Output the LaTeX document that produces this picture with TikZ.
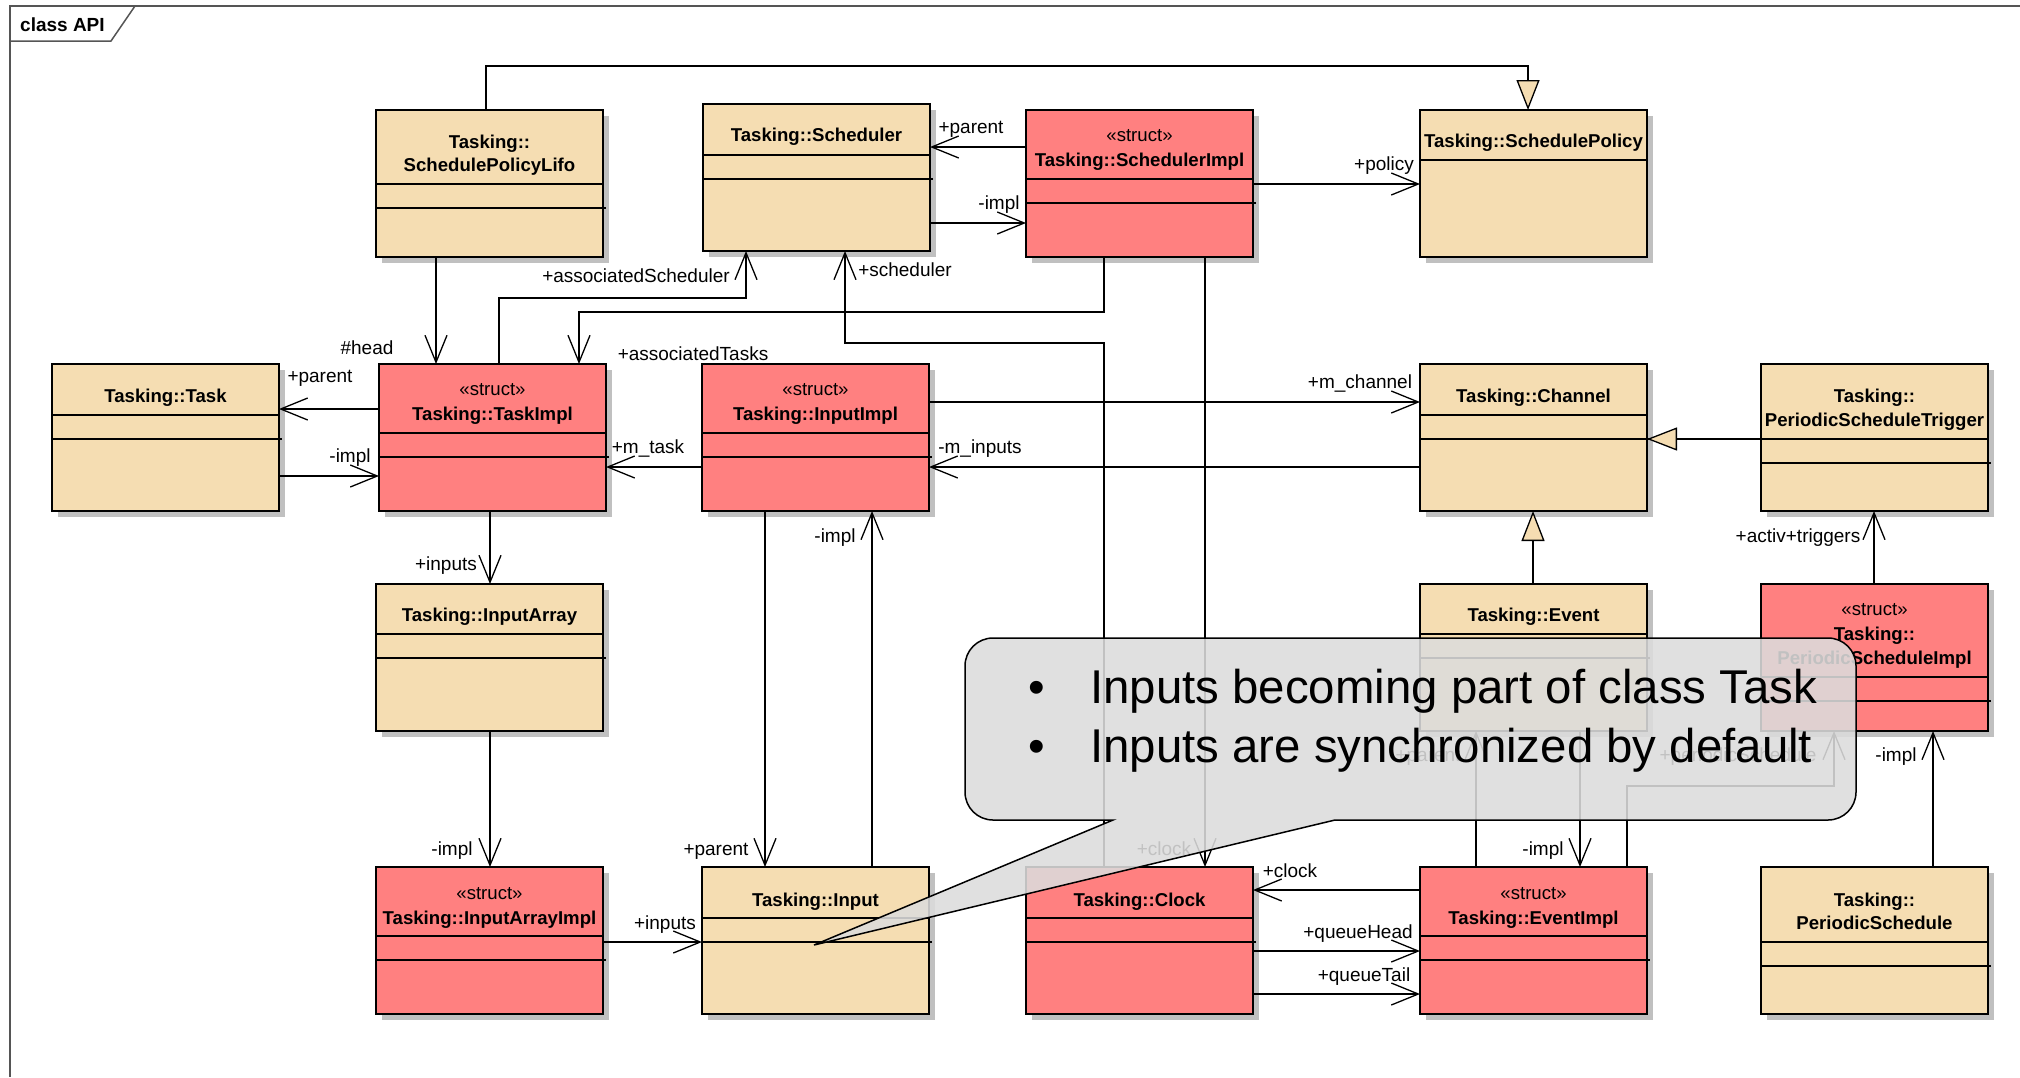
\documentclass[tikz,border=0pt]{standalone}
\usepackage{fontspec}
\setmainfont{Liberation Sans}
\usetikzlibrary{arrows.meta,shadows,calc}
\definecolor{beige}{HTML}{F5DDB2}
\definecolor{umlpink}{HTML}{FF8080}
\definecolor{shadowgray}{HTML}{C0C0C0}
\definecolor{callgray}{HTML}{DCDCDC}
\definecolor{framegray}{HTML}{555555}
\tikzset{
  cls/.style={draw=black, line width=1.5pt, minimum width=227pt, minimum height=147pt,
    inner sep=0pt, outer sep=0pt, anchor=north west,
    drop shadow={shadow xshift=6pt, shadow yshift=-6pt, fill=shadowgray, opacity=1}},
  sepl/.style={line width=1.5pt},
  nm/.style={font=\fontsize{18.6}{22}\selectfont\bfseries, anchor=base, inner sep=0pt},
  st/.style={font=\fontsize{18.6}{22}\selectfont, anchor=base, inner sep=0pt},
  lbl/.style={font=\fontsize{19}{22}\selectfont, anchor=base, inner sep=0pt},
  assoc/.style={line width=1.3pt, -{Straight Barb[length=27pt,width=22pt,line width=1.3pt]}},
  gen/.style={line width=1.3pt, -{Triangle[length=30pt,width=23pt,fill=beige,line width=1.3pt]}},
  callout/.style={fill=callgray, fill opacity=0.88, draw=black, line width=1.5pt},
  big/.style={font=\fontsize{47.4}{56}\selectfont, inner sep=0pt},
}
\newcommand\ubox[6]{%
  \node[cls, fill=#2] (#1) at (#3,#4) {};
  \draw[sepl] ([yshift=-#5pt]#1.north west) -- ([yshift=-#5pt]#1.north east);
  \draw[sepl] ([yshift=-#6pt]#1.north west) -- ([yshift=-#6pt,xshift=3pt]#1.north east);
}
\begin{document}
\begin{tikzpicture}[x=1pt,y=-1pt]
\useasboundingbox (0,0) rectangle (2020,1077);
\fill[white] (0,0) rectangle (2020,1077);
% frame
\draw[framegray, line width=1.5pt] (2020,6) -- (10,6) -- (10,1077);
\draw[framegray, line width=1.5pt] (10,41) -- (111,41) -- (135,6);
\node[font=\fontsize{19}{22}\selectfont\bfseries, anchor=base west, inner sep=0pt] (title) at (20,31) {class API};

% boxes
\ubox{lifo}{beige}{376}{110}{74}{98}
\ubox{sched}{beige}{703}{104}{51}{75}
\ubox{schimpl}{umlpink}{1026}{110}{69}{93}
\node[cls, fill=beige] (spol) at (1420,110) {};
\draw[sepl] ([yshift=-50pt]spol.north west) -- ([yshift=-50pt]spol.north east);
\ubox{task}{beige}{52}{364}{51}{75}
\ubox{timpl}{umlpink}{379}{364}{69}{93}
\ubox{iimpl}{umlpink}{702}{364}{69}{93}
\ubox{chan}{beige}{1420}{364}{51}{75}
\ubox{pst}{beige}{1761}{364}{75}{99}
\ubox{iarr}{beige}{376}{584}{50}{74}
\ubox{event}{beige}{1420}{584}{50}{74}
\ubox{psi}{umlpink}{1761}{584}{93}{117}
\ubox{iaimpl}{umlpink}{376}{867}{69}{93}
\ubox{input}{beige}{702}{867}{51}{75}
\ubox{clock}{umlpink}{1026}{867}{51}{75}
\ubox{eimpl}{umlpink}{1420}{867}{69}{93}
\ubox{psched}{beige}{1761}{867}{75}{99}

% class names
\node[nm] (lifo-a) at ([yshift=-38pt]lifo.north) {Tasking::};
\node[nm] (lifo-b) at ([yshift=-61pt]lifo.north) {SchedulePolicyLifo};
\node[nm] (sched-a) at ([yshift=-37pt]sched.north) {Tasking::Scheduler};
\node[st] (schimpl-s) at ([yshift=-31pt]schimpl.north) {«struct»};
\node[nm] (schimpl-a) at ([yshift=-56pt]schimpl.north) {Tasking::SchedulerImpl};
\node[nm] (spol-a) at ([yshift=-37pt]spol.north) {Tasking::SchedulePolicy};
\node[nm] (task-a) at ([yshift=-38pt]task.north) {Tasking::Task};
\node[st] (timpl-s) at ([yshift=-31pt]timpl.north) {«struct»};
\node[nm] (timpl-a) at ([yshift=-56pt]timpl.north) {Tasking::TaskImpl};
\node[st] (iimpl-s) at ([yshift=-31pt]iimpl.north) {«struct»};
\node[nm] (iimpl-a) at ([yshift=-56pt]iimpl.north) {Tasking::InputImpl};
\node[nm] (chan-a) at ([yshift=-38pt]chan.north) {Tasking::Channel};
\node[nm] (pst-a) at ([yshift=-38pt]pst.north) {Tasking::};
\node[nm] (pst-b) at ([yshift=-62pt]pst.north) {PeriodicScheduleTrigger};
\node[nm] (iarr-a) at ([yshift=-37pt]iarr.north) {Tasking::InputArray};
\node[nm] (event-a) at ([yshift=-37pt]event.north) {Tasking::Event};
\node[st] (psi-s) at ([yshift=-31pt]psi.north) {«struct»};
\node[nm] (psi-a) at ([yshift=-56pt]psi.north) {Tasking::};
\node[nm] (psi-b) at ([yshift=-80pt]psi.north) {PeriodicScheduleImpl};
\node[st] (iaimpl-s) at ([yshift=-32pt]iaimpl.north) {«struct»};
\node[nm] (iaimpl-a) at ([yshift=-57pt]iaimpl.north) {Tasking::InputArrayImpl};
\node[nm] (input-a) at ([yshift=-39pt]input.north) {Tasking::Input};
\node[nm] (clock-a) at ([yshift=-39pt]clock.north) {Tasking::Clock};
\node[st] (eimpl-s) at ([yshift=-32pt]eimpl.north) {«struct»};
\node[nm] (eimpl-a) at ([yshift=-57pt]eimpl.north) {Tasking::EventImpl};
\node[nm] (psched-a) at ([yshift=-39pt]psched.north) {Tasking::};
\node[nm] (psched-b) at ([yshift=-62pt]psched.north) {PeriodicSchedule};

% connectors
\draw[gen] (lifo.north -| 486,0) -- (486,66) -- (1528,66) -- (spol.north -| 1528,0);
\draw[assoc] (lifo.south -| 436,0) -- (timpl.north -| 436,0);
\draw[assoc] (schimpl.west |- 0,147) -- (sched.east |- 0,147);
\draw[assoc] (sched.east |- 0,223) -- (schimpl.west |- 0,223);
\draw[assoc] (schimpl.east |- 0,184) -- (spol.west |- 0,184);
\draw[assoc] (timpl.north -| 499,0) -- (499,298) -- (746,298) -- (sched.south -| 746,0);
\draw[assoc] (schimpl.south -| 1104,0) -- (1104,312) -- (579,312) -- (timpl.north -| 579,0);
\draw[assoc] (clock.north -| 1104,0) -- (1104,343) -- (845,343) -- (sched.south -| 845,0);
\draw[assoc] (schimpl.south -| 1205,0) -- (clock.north -| 1205,0);
\draw[assoc] (task.east |- 0,476) -- (timpl.west |- 0,476);
\draw[assoc] (timpl.west |- 0,409) -- (task.east |- 0,409);
\draw[assoc] (iimpl.west |- 0,467) -- (timpl.east |- 0,467);
\draw[assoc] (timpl.south -| 490,0) -- (iarr.north -| 490,0);
\draw[assoc] (iimpl.east |- 0,402) -- (chan.west |- 0,402);
\draw[assoc] (chan.west |- 0,467) -- (iimpl.east |- 0,467);
\draw[gen] (pst.west |- 0,439) -- (chan.east |- 0,439);
\draw[gen] (event.north -| 1533,0) -- (chan.south -| 1533,0);
\draw[assoc] (psi.north -| 1874,0) -- (pst.south -| 1874,0);
\draw[assoc] (iimpl.south -| 765,0) -- (input.north -| 765,0);
\draw[assoc] (input.north -| 872,0) -- (iimpl.south -| 872,0);
\draw[assoc] (iarr.south -| 490,0) -- (iaimpl.north -| 490,0);
\draw[assoc] (iaimpl.east |- 0,942) -- (input.west |- 0,942);
\draw[assoc] (eimpl.west |- 0,890) -- (clock.east |- 0,890);
\draw[assoc] (clock.east |- 0,951) -- (eimpl.west |- 0,951);
\draw[assoc] (clock.east |- 0,994) -- (eimpl.west |- 0,994);
\draw[assoc] (eimpl.north -| 1476,0) -- (event.south -| 1476,0);
\draw[assoc] (event.south -| 1580,0) -- (eimpl.north -| 1580,0);
\draw[assoc] (eimpl.north -| 1627,0) -- (1627,786) -- (1834,786) -- (psi.south -| 1834,0);
\draw[assoc] (psched.north -| 1933,0) -- (psi.south -| 1933,0);

% connector labels
\node[lbl] (l1) at (367,354) {\#head};
\node[lbl] (l2) at (971,133) {+parent};
\node[lbl] (l3) at (999,209) {-impl};
\node[lbl] (l4) at (1384,170) {+policy};
\node[lbl] (l5) at (636,282) {+associatedScheduler};
\node[lbl] (l6) at (693,360) {+associatedTasks};
\node[lbl] (l7) at (905,276) {+scheduler};
\node[lbl] (l8) at (1164,855) {+clock};
\node[lbl] (l9) at (350,462) {-impl};
\node[lbl] (l10) at (320,382) {+parent};
\node[lbl] (l11) at (648,453) {+m\_task};
\node[lbl] (l12) at (446,570) {+inputs};
\node[lbl] (l13) at (1360,388) {+m\_channel};
\node[lbl] (l14) at (980,453) {-m\_inputs};
\node[lbl] (l15) at (1798,542) {+activ+triggers};
\node[lbl] (l16) at (716,855) {+parent};
\node[lbl] (l17) at (835,542) {-impl};
\node[lbl] (l18) at (452,855) {-impl};
\node[lbl] (l19) at (665,929) {+inputs};
\node[lbl] (l20) at (1290,877) {+clock};
\node[lbl] (l21) at (1358,938) {+queueHead};
\node[lbl] (l22) at (1364,981) {+queueTail};
\node[lbl] (l23) at (1428,761) {+parent};
\node[lbl] (l24) at (1543,855) {-impl};
\node[lbl] (l25) at (1738,761) {+periodicSchedule};
\node[lbl] (l26) at (1896,761) {-impl};

% callout
\path[callout] (1113,820) -- (993,820)
  .. controls (977.5,820) and (965,807.5) .. (965,792)
  -- (965,666) .. controls (965,650.5) and (977.5,638) .. (993,638)
  -- (1828,638) .. controls (1843.5,638) and (1856,650.5) .. (1856,666)
  -- (1856,792) .. controls (1856,807.5) and (1843.5,820) .. (1828,820)
  -- (1335,820) -- (814,945) -- cycle;
\node[big, anchor=base] (b1) at (1037,703) {•};
\node[big, anchor=base west] (t1) at (1090,703) {Inputs becoming part of class Task};
\node[big, anchor=base] (b2) at (1037,762) {•};
\node[big, anchor=base west] (t2) at (1090,762) {Inputs are synchronized by default};
\end{tikzpicture}
\end{document}
